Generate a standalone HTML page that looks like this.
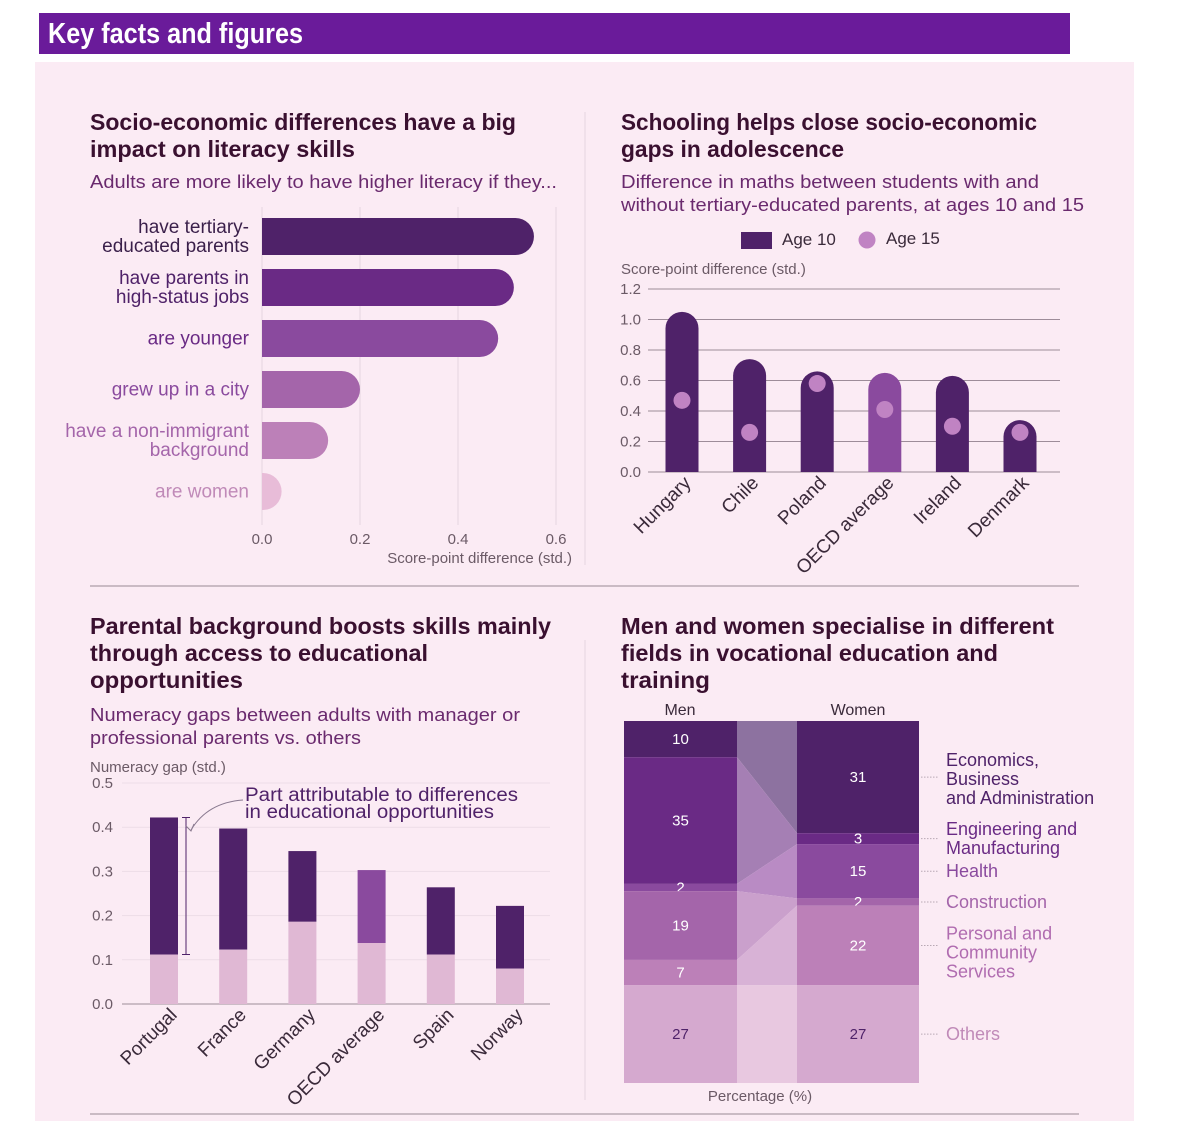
<!DOCTYPE html>
<html><head><meta charset="utf-8"><style>
html,body{margin:0;padding:0;background:#fff;}
svg{display:block;font-family:"Liberation Sans",sans-serif;}
.t{font-weight:bold;font-size:23px;fill:#3a1030;}
.s{font-size:18px;fill:#6a2a6e;}
.ax{font-size:15px;fill:#6b5a66;}
.lab{font-size:19px;}
.xl{font-size:19px;}
</style></head><body>
<svg id="root" width="1185" height="1121" viewBox="0 0 1185 1121">
<rect x="0" y="0" width="1185" height="1121" fill="#fff"/>
<rect x="39" y="13" width="1031" height="41" fill="#6a1b9a"/>
<text x="48" y="43" font-size="29" font-weight="bold" fill="#fff" textLength="255" lengthAdjust="spacingAndGlyphs">Key facts and figures</text>
<rect x="35" y="62" width="1099" height="1059" fill="#fbebf4"/>
<line x1="585" y1="112" x2="585" y2="565" stroke="#e6d4df"/>
<line x1="585" y1="640" x2="585" y2="1100" stroke="#e6d4df"/>
<line x1="90" y1="586" x2="1079" y2="586" stroke="#9a8a94"/>
<line x1="90" y1="1114" x2="1079" y2="1114" stroke="#9a8a94"/>

<text class="t" x="90" y="130" textLength="426" lengthAdjust="spacingAndGlyphs">Socio-economic differences have a big</text>
<text class="t" x="90" y="157" textLength="265" lengthAdjust="spacingAndGlyphs">impact on literacy skills</text>
<text class="s" x="90" y="188" textLength="467" lengthAdjust="spacingAndGlyphs">Adults are more likely to have higher literacy if they...</text>
<g id="c1"></g>

<text class="t" x="621" y="130" textLength="416" lengthAdjust="spacingAndGlyphs">Schooling helps close socio-economic</text>
<text class="t" x="621" y="157" textLength="223" lengthAdjust="spacingAndGlyphs">gaps in adolescence</text>
<text class="s" x="621" y="188" textLength="418" lengthAdjust="spacingAndGlyphs">Difference in maths between students with and</text>
<text class="s" x="621" y="211" textLength="463" lengthAdjust="spacingAndGlyphs">without tertiary-educated parents, at ages 10 and 15</text>
<g>
<rect x="741" y="232" width="31" height="17" fill="#4f2269"/>
<text x="782" y="245" font-size="17" fill="#3a2a3a">Age 10</text>
<circle cx="867" cy="240" r="8.5" fill="#c083c3"/>
<text x="886" y="244" font-size="17" fill="#3a2a3a">Age 15</text>
</g>
<text class="ax" x="621" y="274">Score-point difference (std.)</text>
<g id="c2"></g>

<text class="t" x="90" y="634" textLength="461" lengthAdjust="spacingAndGlyphs">Parental background boosts skills mainly</text>
<text class="t" x="90" y="661" textLength="338" lengthAdjust="spacingAndGlyphs">through access to educational</text>
<text class="t" x="90" y="688" textLength="153" lengthAdjust="spacingAndGlyphs">opportunities</text>
<text class="s" x="90" y="721" textLength="430" lengthAdjust="spacingAndGlyphs">Numeracy gaps between adults with manager or</text>
<text class="s" x="90" y="744" textLength="271" lengthAdjust="spacingAndGlyphs">professional parents vs. others</text>
<text class="ax" x="90" y="772">Numeracy gap (std.)</text>
<g id="c3"></g>
<g>
<text x="245" y="801" font-size="19" fill="#4f2269" textLength="273" lengthAdjust="spacingAndGlyphs">Part attributable to differences</text>
<text x="245" y="818" font-size="19" fill="#4f2269" textLength="249" lengthAdjust="spacingAndGlyphs">in educational opportunities</text>
<path d="M243,800 C215,802 200,815 191,830" fill="none" stroke="#8a7a90" stroke-width="1"/>
<path d="M186,826 L191,831 L194,824" fill="none" stroke="#8a7a90" stroke-width="1"/>
</g>

<text class="t" x="621" y="634" textLength="433" lengthAdjust="spacingAndGlyphs">Men and women specialise in different</text>
<text class="t" x="621" y="661" textLength="377" lengthAdjust="spacingAndGlyphs">fields in vocational education and</text>
<text class="t" x="621" y="688" textLength="89" lengthAdjust="spacingAndGlyphs">training</text>
<text x="680" y="715" font-size="16" fill="#3a2a3a" text-anchor="middle">Men</text>
<text x="858" y="715" font-size="16" fill="#3a2a3a" text-anchor="middle">Women</text>
<text x="760" y="1101" font-size="15" fill="#6b5a66" text-anchor="middle">Percentage (%)</text>
<g id="c4"></g>
</svg>
<script>
const NS="http://www.w3.org/2000/svg";
function mk(parent,tag,attrs,txt){const e=document.createElementNS(NS,tag);for(const k in attrs)e.setAttribute(k,attrs[k]);if(txt!==undefined)e.textContent=txt;parent.appendChild(e);return e;}

const c1Labels=[["have tertiary-","educated parents"],["have parents in","high-status jobs"],["are younger"],["grew up in a city"],["have a non-immigrant","background"],["are women"]];
const c1Values=[0.555,0.514,0.482,0.2,0.135,0.04];
const c1Ticks=[0,0.2,0.4,0.6];
const c1TickLabels=["0.0","0.2","0.4","0.6"];
const c2Countries=["Hungary","Chile","Poland","OECD average","Ireland","Denmark"];
const c2Age10=[1.05,0.74,0.66,0.65,0.63,0.34];
const c2Age15=[0.47,0.26,0.58,0.41,0.30,0.26];
const c2Ticks=[0,0.2,0.4,0.6,0.8,1.0,1.2];
const c2TickLabels=["0.0","0.2","0.4","0.6","0.8","1.0","1.2"];
const c3Countries=["Portugal","France","Germany","OECD average","Spain","Norway"];
const c3Total=[0.422,0.397,0.346,0.303,0.264,0.222];
const c3Base=[0.112,0.123,0.186,0.138,0.112,0.08];
const c3Ticks=[0,0.1,0.2,0.3,0.4,0.5];
const c3TickLabels=["0.0","0.1","0.2","0.3","0.4","0.5"];
const c4Fields=[["Economics,","Business","and Administration"],["Engineering and","Manufacturing"],["Health"],["Construction"],["Personal and","Community","Services"],["Others"]];
const c4Men=[10,35,2,19,7,27];
const c4Women=[31,3,15,2,22,27];

(function(){
const g=document.getElementById('c1');
const x=v=>262+v*490;
const colors=["#4f2269","#6a2a85","#8a4a9e","#a465aa","#bc80b8","#e8bcd8"];
const lab=["#3a1f4a","#4f2269","#6a2a85","#8a4a9e","#a465aa","#c08ab8"];
c1Ticks.forEach((t,i)=>{
 if(i>0){const l=mk(g,'line',{x1:x(t),x2:x(t),y1:207,y2:525,stroke:'#e6d6e0'});}
 const tx=mk(g,'text',{x:x(t),y:544,'text-anchor':'middle',class:'ax'},c1TickLabels[i]);
 
});
mk(g,'line',{x1:262,x2:262,y1:207,y2:525,stroke:'#e6d6e0'});
const ttl=mk(g,'text',{x:572,y:563,'text-anchor':'end',class:'ax'},'Score-point difference (std.)');

const h=37,pitch=51;
c1Values.forEach((v,i)=>{
 const y=218+i*pitch, w=x(v)-262, r=h/2;
 const d=w>r?`M262,${y}H${262+w-r}A${r},${r} 0 0 1 ${262+w-r},${y+h}H262Z`:`M262,${y}A${w},${r} 0 0 1 262,${y+h}Z`;
 const p=mk(g,'path',{d:d,fill:colors[i]});
 
 const L=c1Labels[i];
 L.forEach((s,j)=>{const yy=y+h/2+6+(j-(L.length-1)/2)*19;
  const t=mk(g,'text',{x:249,y:yy,'text-anchor':'end',fill:lab[i],class:'lab'},s);
  });
});
})();

(function(){
const g=document.getElementById('c2');
const y=v=>472-v*152.5;
c2Ticks.forEach((t,i)=>{
 const l=mk(g,'line',{x1:648,x2:1060,y1:y(t),y2:y(t),stroke:'#9d8c99','stroke-width':1});
 
 const tx=mk(g,'text',{x:641,y:y(t)+5,'text-anchor':'end',class:'ax'},c2TickLabels[i]);
 
});
const r=16.5;
c2Countries.forEach((c,i)=>{
 const cx=682+i*67.6, top=y(c2Age10[i]);
 const col=c==="OECD average"?"#8a4a9e":"#4f2269";
 const p=mk(g,'path',{d:`M${cx-r},472V${top+r}A${r},${r} 0 0 1 ${cx+r},${top+r}V472Z`,fill:col});
 
 const d=mk(g,'circle',{cx:cx,cy:y(c2Age15[i]),r:8.5,fill:'#c083c3'});
 
 const t=mk(g,'text',{x:cx+10,y:484,'text-anchor':'end',transform:`rotate(-45 ${cx+10} 484)`,class:'xl',fill:'#3a2a3a'},c);
 
});
})();

(function(){
const g=document.getElementById('c3');
const y=v=>1004-v*442;
c3Ticks.forEach((t,i)=>{
 const l=mk(g,'line',{x1:122,x2:550,y1:y(t),y2:y(t),stroke:i===0?'#9d8c99':'#eddde7','stroke-width':1});
 
 const tx=mk(g,'text',{x:113,y:y(t)+5,'text-anchor':'end',class:'ax'},c3TickLabels[i]);
 
});
const w=28;
c3Countries.forEach((c,i)=>{
 const cx=164+i*69.2;
 const col=c==="OECD average"?"#8a4a9e":"#4f2269";
 const a=mk(g,'rect',{x:cx-w/2,y:y(c3Total[i]),width:w,height:y(c3Base[i])-y(c3Total[i]),fill:col});
 
 const b=mk(g,'rect',{x:cx-w/2,y:y(c3Base[i]),width:w,height:1004-y(c3Base[i]),fill:'#e0b8d4'});
 
 const t=mk(g,'text',{x:cx+14,y:1016,'text-anchor':'end',transform:`rotate(-45 ${cx+14} 1016)`,class:'xl',fill:'#3a2a3a'},c);
 
});
const bx=186, y1=y(c3Total[0]), y2=y(c3Base[0]);
const br=mk(g,'path',{d:`M${bx-4},${y1}H${bx+4}M${bx},${y1}V${y2}M${bx-4},${y2}H${bx+4}`,stroke:'#4f2269',fill:'none'});

})();

(function(){
const g=document.getElementById('c4');
const top=721,H=362;
const mx0=624,mx1=737,wx0=797,wx1=919;
const cols=["#4f2269","#6a2a85","#8a4a9e","#a465aa","#bc80b8","#d5a9cf"];
const flow=["#8d72a0","#a57fb4","#b98bc4","#caa0cc","#d8b2d6","#e8c8e0"];
const labCol=["#4f2269","#6a2a85","#8a4a9e","#a465aa","#b06cb0","#c08ab8"];
const txtCol=["#fff","#fff","#fff","#fff","#fff","#4f2269"];
const labOff=[2,0,0,0,7,0];
let ym=top,yw=top;
c4Fields.forEach((f,i)=>{
 const hm=c4Men[i]/100*H, hw=c4Women[i]/100*H;
 const p=mk(g,'polygon',{points:`${mx1},${ym} ${wx0},${yw} ${wx0},${yw+hw} ${mx1},${ym+hm}`,fill:flow[i]});
 
 const a=mk(g,'rect',{x:mx0,y:ym,width:mx1-mx0,height:hm,fill:cols[i]});
 
 const b=mk(g,'rect',{x:wx0,y:yw,width:wx1-wx0,height:hw,fill:cols[i]});
 
 const t1=mk(g,'text',{x:(mx0+mx1)/2,y:ym+hm/2+5,'text-anchor':'middle','font-size':15,fill:txtCol[i]},String(c4Men[i]));
 
 const t2=mk(g,'text',{x:(wx0+wx1)/2,y:yw+hw/2+5,'text-anchor':'middle','font-size':15,fill:txtCol[i]},String(c4Women[i]));
 
 const cy=yw+hw/2;
 const ld=mk(g,'line',{x1:wx1+2,x2:wx1+20,y1:cy,y2:cy,stroke:'#b8a8b4','stroke-dasharray':'1.5,1.5'});
 
 f.forEach((s,j)=>{
  const yy=cy+labOff[i]+6+(j-(f.length-1)/2)*19;
  const t=mk(g,'text',{x:946,y:yy,'font-size':18,fill:labCol[i]},s);
  
 });
 ym+=hm;yw+=hw;
});
})();
</script>
</body></html>
